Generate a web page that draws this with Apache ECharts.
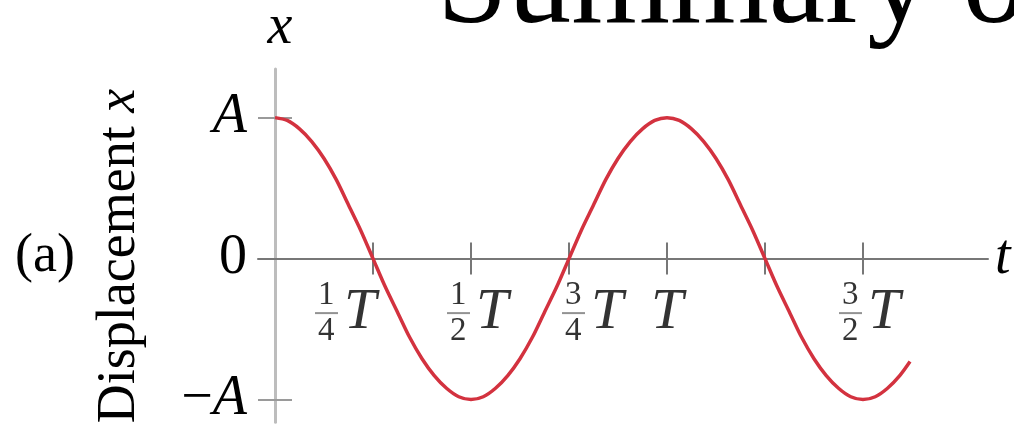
<!DOCTYPE html>
<html>
<head>
<meta charset="utf-8">
<script src="https://cdn.jsdelivr.net/npm/echarts@6/dist/echarts.min.js"></script>
<style>
  html, body { margin: 0; padding: 0; background: #ffffff; }
  #chart { width: 1014px; height: 427px; }
</style>
</head>
<body>
<div id="chart"></div>
<script>
// Displacement of a simple harmonic oscillator over time (t in periods T, x in amplitudes A)
const timeT = [0, 0.03125, 0.0625, 0.09375, 0.125, 0.15625, 0.1875, 0.21875, 0.25,
  0.28125, 0.3125, 0.34375, 0.375, 0.40625, 0.4375, 0.46875, 0.5,
  0.53125, 0.5625, 0.59375, 0.625, 0.65625, 0.6875, 0.71875, 0.75,
  0.78125, 0.8125, 0.84375, 0.875, 0.90625, 0.9375, 0.96875, 1,
  1.03125, 1.0625, 1.09375, 1.125, 1.15625, 1.1875, 1.21875, 1.25,
  1.28125, 1.3125, 1.34375, 1.375, 1.40625, 1.4375, 1.46875, 1.5,
  1.53125, 1.5625, 1.59375, 1.62];
const displacement = [1, 0.98, 0.92, 0.83, 0.71, 0.56, 0.38, 0.2, 0,
  -0.2, -0.38, -0.56, -0.71, -0.83, -0.92, -0.98, -1,
  -0.98, -0.92, -0.83, -0.71, -0.56, -0.38, -0.2, 0,
  0.2, 0.38, 0.56, 0.71, 0.83, 0.92, 0.98, 1,
  0.98, 0.92, 0.83, 0.71, 0.56, 0.38, 0.2, 0,
  -0.2, -0.38, -0.56, -0.71, -0.83, -0.92, -0.98, -1,
  -0.98, -0.92, -0.83, -0.73];

// Time-axis tick positions and their fraction labels
const timeTicks = [0.25, 0.5, 0.75, 1, 1.25, 1.5];
const labelTimes = [0.25, 0.5, 0.75, 1, 1.5];
const labelNum = ['1', '1', '3', '', '3'];
const labelDen = ['4', '2', '4', '', '2'];

// Displacement-axis ticks and labels
const dispTicks = [-1, 1];
const dispLabelValues = [-1, 0, 1];
const dispLabelText = ['\u2212{i|A}', '0', '{i|A}'];

const titleText = 'Summary of';
const panelText = '(a)';
const yTitle = 'Displacement ';
const yTitleVar = 'x';

const SERIF = '"Liberation Serif", "Times New Roman", serif';

// horizontal nudges of each time label (keeps them clear of the curve)
const labelShiftX = [-58, -24, -7, -22, -24];

const chart = echarts.init(document.getElementById('chart'), null, { renderer: 'canvas' });

const xMin = -0.0434, xMax = 1.8189;
const yMin = -1.16, yMax = 1.345;

const commonX = { type: 'value', min: xMin, max: xMax, splitLine: { show: false } };
const commonY = { type: 'value', min: yMin, max: yMax, splitLine: { show: false } };

const option = {
  animation: false,
  backgroundColor: '#ffffff',
  grid: { left: 258, right: 26, top: 60, bottom: 0, containLabel: false },
  xAxis: [
    Object.assign({}, commonX, {
      position: 'bottom',
      name: 't',
      nameLocation: 'end',
      nameGap: 7,
      nameTextStyle: { fontFamily: SERIF, fontStyle: 'italic', fontSize: 56, color: '#000', verticalAlign: 'middle', align: 'left' },
      axisLine: { show: true, onZero: true, lineStyle: { color: '#777777', width: 2 } },
      axisTick: { show: true, inside: false, length: 16, customValues: timeTicks, lineStyle: { color: '#777777', width: 2 } },
      axisLabel: { show: false }
    }),
    Object.assign({}, commonX, {
      position: 'bottom',
      axisLine: { show: true, onZero: true, lineStyle: { color: 'rgba(0,0,0,0)', width: 0 } },
      axisTick: { show: true, inside: true, length: 16, customValues: timeTicks, lineStyle: { color: '#777777', width: 2 } },
      axisLabel: { show: false }
    })
  ],
  yAxis: [
    Object.assign({}, commonY, {
      position: 'left',
      name: 'x',
      nameLocation: 'end',
      nameGap: 41,
      nameTextStyle: { fontFamily: SERIF, fontStyle: 'italic', fontSize: 56, color: '#000', verticalAlign: 'middle', align: 'center', padding: [0, 0, 0, 10] },
      axisLine: { show: true, onZero: true, lineStyle: { color: '#bdbdbd', width: 3 } },
      axisTick: { show: true, inside: false, length: 17, customValues: dispTicks, lineStyle: { color: '#9a9a9a', width: 2 } },
      axisLabel: {
        show: true, margin: 11, customValues: dispLabelValues,
        fontFamily: SERIF, fontSize: 56, color: '#000',
        formatter: function (v) {
          const k = dispLabelValues.indexOf(Math.round(v));
          return k >= 0 ? dispLabelText[k] : '';
        },
        rich: { i: { fontFamily: SERIF, fontStyle: 'italic', fontSize: 56, color: '#000' } }
      }
    }),
    Object.assign({}, commonY, {
      position: 'left',
      axisLine: { show: true, onZero: true, lineStyle: { color: 'rgba(0,0,0,0)', width: 0 } },
      axisTick: { show: true, inside: true, length: 17, customValues: dispTicks, lineStyle: { color: '#9a9a9a', width: 2 } },
      axisLabel: { show: false }
    })
  ],
  graphic: [
    {
      type: 'text', x: 437, y: -11, silent: true,
      style: { text: titleText, font: '127px ' + SERIF, fill: '#000', align: 'left', verticalAlign: 'middle' }
    },
    {
      type: 'text', x: 45, y: 257, silent: true,
      style: { text: panelText, font: '54px ' + SERIF, fill: '#000', align: 'center', verticalAlign: 'middle' }
    },
    {
      type: 'text', x: 120, y: 256, rotation: Math.PI / 2, silent: true,
      style: {
        text: yTitle + '{i|' + yTitleVar + '}',
        font: '54px ' + SERIF, fill: '#000', align: 'center', verticalAlign: 'middle',
        rich: { i: { font: 'italic 54px ' + SERIF, fill: '#000' } }
      }
    }
  ],
  series: [
    {
      type: 'line',
      xAxisIndex: 0, yAxisIndex: 0,
      data: timeT.map((t, i) => [t, displacement[i]]),
      smooth: 0.3,
      showSymbol: false,
      lineStyle: { color: '#d3323f', width: 3.5 },
      z: 5
    },
    {
      type: 'scatter',
      xAxisIndex: 0, yAxisIndex: 0,
      symbolSize: 1,
      itemStyle: { color: 'rgba(0,0,0,0)' },
      silent: true,
      z: 6,
      data: labelTimes.map((t, i) => ({
        value: [t, 0],
        label: { offset: [labelShiftX[i], 22.5] }
      })),
      label: {
        show: true,
        position: 'inside',
        align: 'left',
        verticalAlign: 'top',
        color: '#000',
        textBorderWidth: 0,
        formatter: function (p) {
          const i = p.dataIndex;
          if (!labelNum[i]) {
            return '{n| }\n{gap| }{T|T}\n{d| }';
          }
          return '{n|' + labelNum[i] + '}\n{bar| }{T|T}\n{d|' + labelDen[i] + '}';
        },
        rich: {
          n: { fontFamily: SERIF, fontSize: 33, color: '#000', lineHeight: 28, padding: [0, 0, 0, 3] },
          d: { fontFamily: SERIF, fontSize: 33, color: '#000', lineHeight: 28, padding: [0, 0, 0, 3] },
          bar: { width: 23, height: 2, lineHeight: 8, backgroundColor: '#777777' },
          gap: { width: 0, height: 2, lineHeight: 8 },
          T: { fontFamily: SERIF, fontStyle: 'italic', fontSize: 58, color: '#000', lineHeight: 8, padding: [0, 0, 0, 6] }
        }
      }
    }
  ]
};

chart.setOption(option);
</script>
</body>
</html>
